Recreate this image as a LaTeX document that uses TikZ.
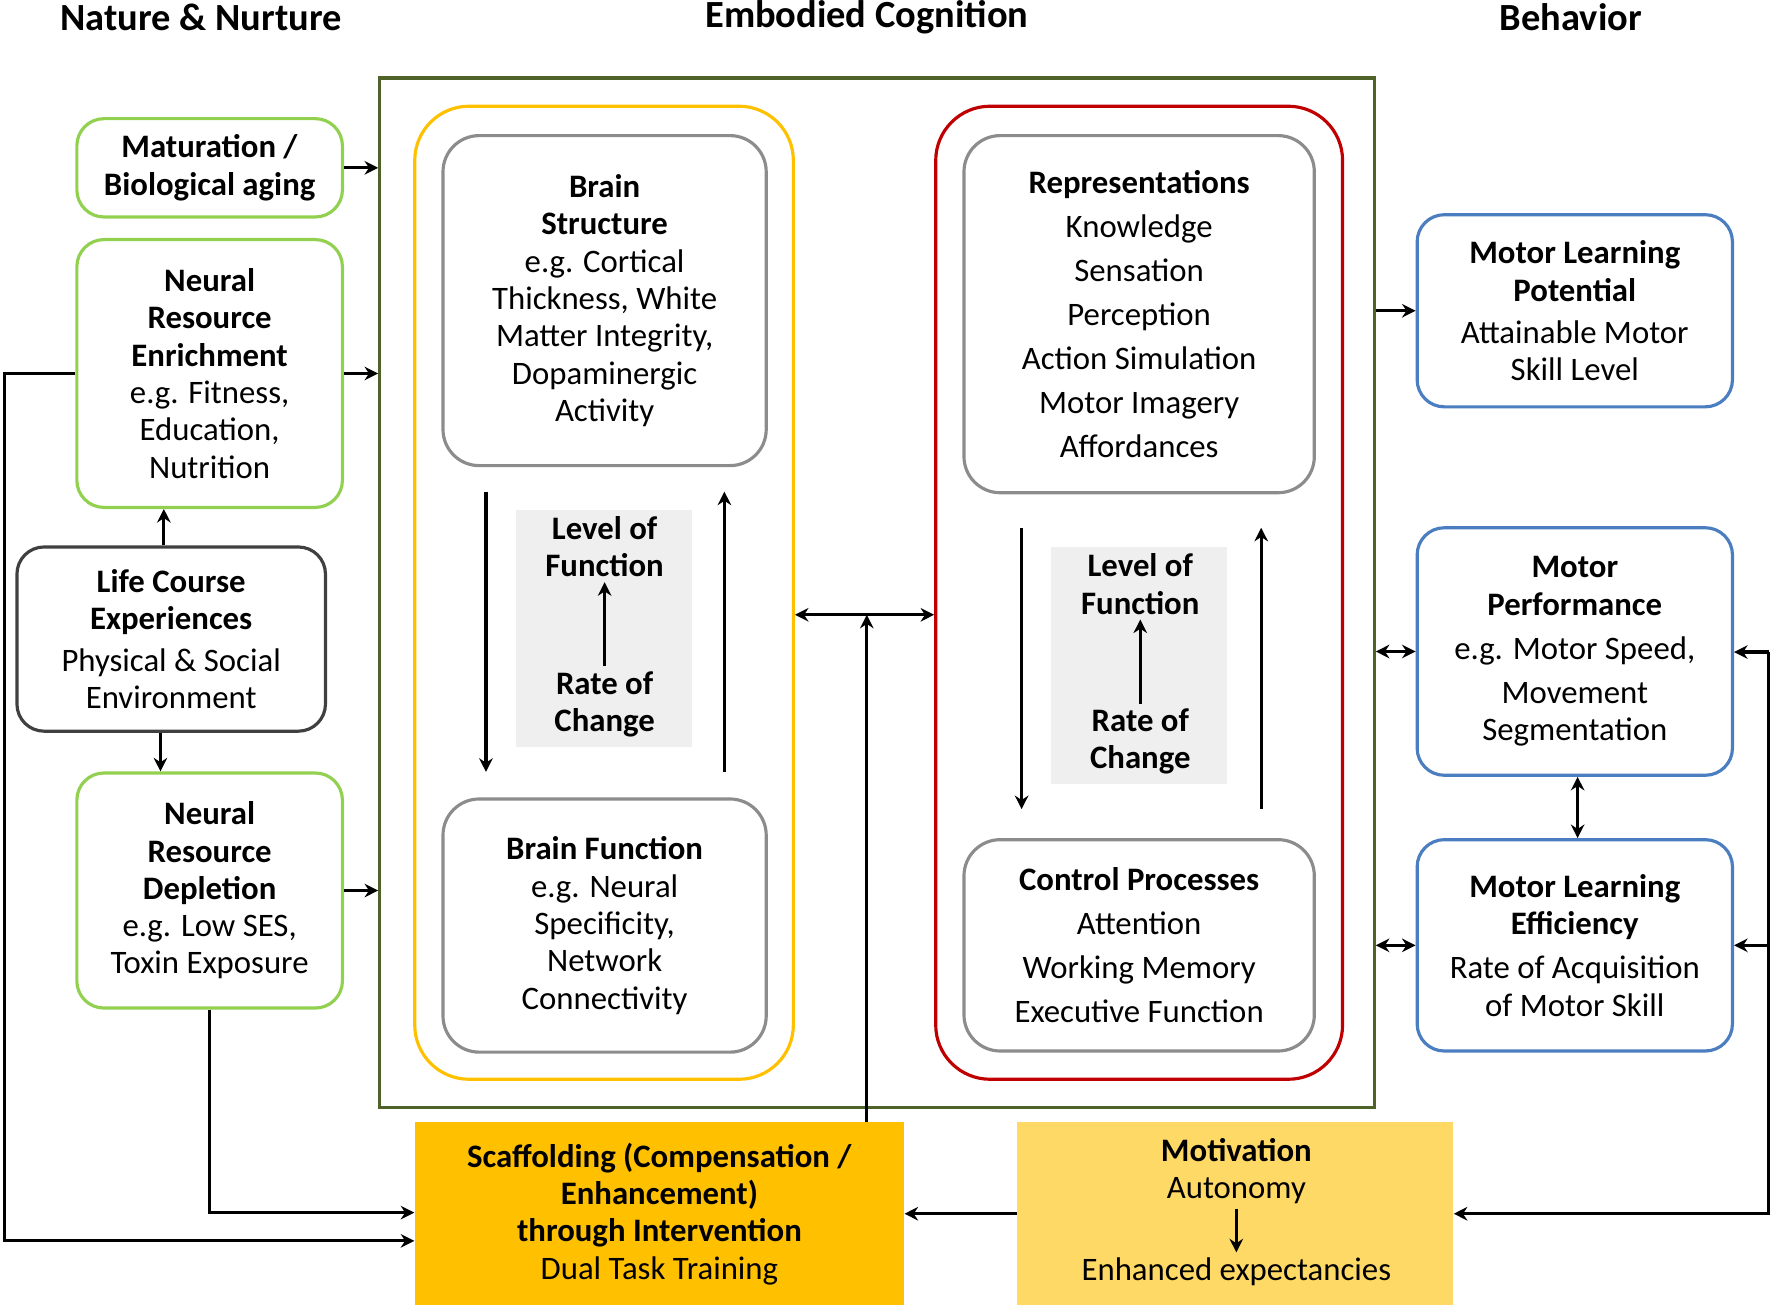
\documentclass[tikz,border=0pt]{standalone}
\usepackage{fontspec}
\setmainfont{Carlito}
\usetikzlibrary{arrows.meta}
\definecolor{natgreen}{HTML}{92D050}
\definecolor{olive}{HTML}{4F6228}
\definecolor{behblue}{HTML}{4A7EC0}
\definecolor{cogred}{HTML}{C00000}
\definecolor{cogyellow}{HTML}{FFC000}
\definecolor{motyellow}{HTML}{FFD966}
\definecolor{shade}{HTML}{EFEFEF}
\begin{document}
\begin{tikzpicture}[x=0.5pt,y=-0.5pt,
  every node/.style={font=\fontsize{14.5}{16.5}\selectfont, align=center, inner sep=2pt},
  box/.style={draw, rounded corners=12pt, line width=1.4pt},
  natbox/.style={box, draw=natgreen},
  behbox/.style={box, draw=behblue},
  graybox/.style={box, draw=gray!90, rounded corners=16pt},
  arr/.style={line width=1.4pt, -{Stealth[length=6pt,width=6pt]}},
  dbl/.style={line width=1.4pt, {Stealth[length=6pt,width=6pt]}-{Stealth[length=6pt,width=6pt]}},
  title/.style={font=\fontsize{17}{19}\selectfont\bfseries}]
\useasboundingbox (0,0) rectangle (1568,1155);

% column titles
\node[title] (tnat) at (178,15) {Nature \& Nurture};
\node[title] (tcog) at (767,15) {Embodied Cognition};
\node[title] (tbeh) at (1390,15) {Behavior};

% embodied cognition frame
\node[draw=olive, line width=1.4pt, minimum width=440pt, minimum height=455.5pt] (outer) at (776,524.5) {};
\node[box, draw=cogyellow, rounded corners=24pt, minimum width=167.5pt, minimum height=430.5pt] (yel) at (534.5,524.5) {};
\node[box, draw=cogred, rounded corners=24pt, minimum width=180pt, minimum height=430.5pt] (red) at (1008,524.5) {};

% brain side
\node[graybox, minimum width=143pt, minimum height=146pt] (bstr) at (535,266)
  {\textbf{Brain}\\\textbf{Structure}\\e.g. Cortical\\Thickness, White\\Matter Integrity,\\Dopaminergic\\Activity};
\node[graybox, minimum width=143pt, minimum height=112pt] (bfun) at (535,819)
  {\textbf{Brain Function}\\e.g. Neural\\Specificity,\\Network\\Connectivity};
\node[fill=shade, minimum width=77.5pt, minimum height=105pt] (shl) at (534.5,556) {};
\node[font=\fontsize{14.5}{16.5}\selectfont\bfseries] (lvll) at (535,484) {Level of\\Function};
\node[font=\fontsize{14.5}{16.5}\selectfont\bfseries] (ratel) at (535,623) {Rate of\\Change};
\draw[arr] (ratel.north) -- (lvll.south);
\coordinate (bl1) at (430,435);
\coordinate (bl2) at (430,683);
\coordinate (br1) at (641,683);
\coordinate (br2) at (641,435);
\draw[arr] (bl1) -- (bl2);
\draw[arr] (br1) -- (br2);

% cognition side
\node[graybox, minimum width=155pt, minimum height=158pt] (rep) at (1008,278)
  {\textbf{Representations}\\[3pt]Knowledge\\[3pt]Sensation\\[3pt]Perception\\[3pt]Action Simulation\\[3pt]Motor Imagery\\[3pt]Affordances};
\node[graybox, minimum width=155pt, minimum height=93.5pt] (ctrl) at (1008,836.5)
  {\textbf{Control Processes}\\[3pt]Attention\\[3pt]Working Memory\\[3pt]Executive Function};
\node[fill=shade, minimum width=78pt, minimum height=105pt] (shr) at (1008,589) {};
\node[font=\fontsize{14.5}{16.5}\selectfont\bfseries] (lvlr) at (1009,517) {Level of\\Function};
\node[font=\fontsize{14.5}{16.5}\selectfont\bfseries] (rater) at (1009,656) {Rate of\\Change};
\draw[arr] (rater.north) -- (lvlr.south);
\coordinate (cl1) at (904,467);
\coordinate (cl2) at (904,716);
\coordinate (cr1) at (1116,716);
\coordinate (cr2) at (1116,467);
\draw[arr] (cl1) -- (cl2);
\draw[arr] (cr1) -- (cr2);

% nature & nurture
\node[natbox, minimum width=117.5pt, minimum height=43.5pt] (mat) at (185.5,148.5)
  {\textbf{Maturation /}\\\textbf{Biological aging}};
\node[natbox, minimum width=117.5pt, minimum height=118.5pt] (enr) at (185.5,330.5)
  {\textbf{Neural}\\\textbf{Resource}\\\textbf{Enrichment}\\e.g. Fitness,\\Education,\\Nutrition};
\node[box, draw=black!75, minimum width=136.5pt, minimum height=81.5pt] (life) at (151.5,565.5)
  {\textbf{Life Course}\\\textbf{Experiences}\\[2pt]Physical \& Social\\Environment};
\node[natbox, minimum width=117.5pt, minimum height=104pt] (dep) at (185.5,788)
  {\textbf{Neural}\\\textbf{Resource}\\\textbf{Depletion}\\e.g. Low SES,\\Toxin Exposure};
\draw[arr] (life.north -| 145,0) -- (enr.south -| 145,0);
\draw[arr] (life.south -| 142,0) -- (dep.north -| 142,0);
\draw[arr] (mat.east) -- (mat.east -| outer.west);
\draw[arr] (enr.east) -- (enr.east -| outer.west);
\draw[arr] (dep.east) -- (dep.east -| outer.west);

% behavior
\node[behbox, minimum width=139.5pt, minimum height=85pt] (mlp) at (1393.5,275)
  {\textbf{Motor Learning}\\\textbf{Potential}\\[2pt]Attainable Motor\\Skill Level};
\node[behbox, minimum width=139.5pt, minimum height=109.5pt] (mp) at (1393.5,576.5)
  {\textbf{Motor}\\\textbf{Performance}\\[3pt]e.g. Motor Speed,\\[3pt]Movement\\Segmentation};
\node[behbox, minimum width=139.5pt, minimum height=93.5pt] (mle) at (1393.5,836.5)
  {\textbf{Motor Learning}\\\textbf{Efficiency}\\[3pt]Rate of Acquisition\\of Motor Skill};
\draw[arr] (mlp.west -| outer.east) -- (mlp.west);
\draw[dbl] (mp.west -| outer.east) -- (mp.west);
\draw[dbl] (mle.west -| outer.east) -- (mle.west);
\draw[dbl] (mp.south -| 1396,0) -- (mle.north -| 1396,0);

% bottom boxes
\node[fill=cogyellow, minimum width=216.5pt, minimum height=81pt] (scaf) at (583.5,1074)
  {\textbf{Scaffolding (Compensation /}\\\textbf{Enhancement)}\\\textbf{through Intervention}\\Dual Task Training};
\node[fill=motyellow, minimum width=193pt, minimum height=81pt] (motiv) at (1093,1074) {};
\node (mtop) at (1094,1036) {\textbf{Motivation}\\Autonomy};
\node (mbot) at (1094,1125) {Enhanced expectancies};
\draw[arr] (mtop.south) -- (mbot.north);
\draw[arr] (motiv.west) -- (scaf.east);

% links between the columns
\coordinate (mid) at (767,544);
\draw[dbl] (yel.east |- mid) -- (red.west |- mid);
\draw[arr] (scaf.north -| mid) -- (mid);
\coordinate (lx) at (4,1098);
\coordinate (ly) at (0,1073);
\draw[arr] (enr.west) -| (lx) -- (lx -| scaf.west);
\draw[arr] (dep.south) |- (ly -| scaf.west);
\coordinate (rx) at (1565,577);
\draw[arr] (rx) |- (motiv.east);
\draw[arr] (rx) -- (rx -| mp.east);
\draw[arr] (rx |- mle.east) -- (mle.east);
\end{tikzpicture}
\end{document}
